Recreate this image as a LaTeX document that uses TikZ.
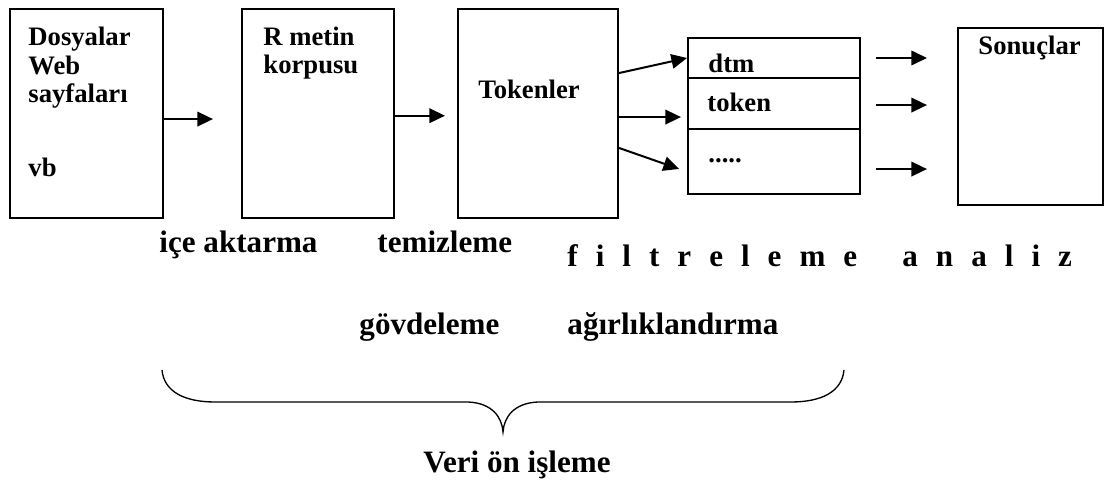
\documentclass[tikz,border=0pt]{standalone}
\usepackage{fontspec}
\setmainfont{Liberation Serif}
\usepackage{tikz}
\usetikzlibrary{positioning,arrows.meta}
\newcommand{\spacedword}[1]{{\spaceskip=8.1pt\relax #1}}
\tikzset{
  box/.style={draw,line width=0.9pt,inner sep=0pt,anchor=north west},
  boxtext/.style={inner sep=0pt,anchor=base west,align=left,
                  font=\bfseries\fontsize{12}{13}\selectfont},
  phase/.style={inner sep=0pt,anchor=base west,
                font=\bfseries\fontsize{14}{16}\selectfont},
  arr/.style={line width=0.9pt,-{Triangle[length=7pt,width=6.5pt]}}
}

\begin{document}
\begin{tikzpicture}[x=0.45pt,y=-0.45pt]
        \useasboundingbox (0,0) rectangle (1105,480);
        \node[box,minimum width=68.85pt,minimum height=94.05pt] (files) at (9,8) {};
        \node[box,minimum width=68.4pt,minimum height=94.05pt] (corpus) at (241,8) {};
        \node[box,minimum width=72pt,minimum height=94.05pt] (tokens) at (457,8) {};
        \node[box,minimum width=77.4pt,minimum height=18pt] (rowdtm) at (687,37) {};
        \node[box,minimum width=77.4pt,minimum height=22.95pt] (rowtoken) at (687,77) {};
        \node[box,minimum width=77.4pt,minimum height=29.25pt] (rowmore) at (687,128) {};
        \node[box,minimum width=65.25pt,minimum height=79.65pt] (results) at (957,27) {};

        \node[boxtext] (filesTxt) at (28,177) {Dosyalar\\Web\\sayfaları\\[20.3pt]vb};
        \node[boxtext] (corpusTxt) at (263,74) {R metin\\korpusu};
        \node[boxtext] (tokensTxt) at (478,99) {Tokenler};
        \node[boxtext] (dtmTxt) at (708,73) {dtm};
        \node[boxtext] (tokenTxt) at (707,112) {token};
        \node[boxtext] (moreTxt) at (708,163) {.....};
        \node[boxtext] (resultsTxt) at (978,55) {Sonuçlar};

        \draw[arr] ([yshift=-2.5pt]files.east) -- ++(49,0);
        \draw[arr] ([yshift=-1pt]corpus.east) -- ++(50,0);
        \draw[arr] ([yshift=18.2pt]tokens.east) -- (rowdtm.west);
        \draw[arr] ([yshift=-1.6pt]tokens.east) -- ++(62,0);
        \draw[arr] ([yshift=-15.5pt]tokens.east) -- ++(60,21);
        \draw[arr] ([xshift=6.75pt]rowdtm.east) -- ++(51,0);
        \draw[arr] ([xshift=6.75pt,yshift=-0.7pt]rowtoken.east) -- ++(51,0);
        \draw[arr] ([xshift=6.75pt,yshift=-3.4pt]rowmore.east) -- ++(51,0);

        \node[phase] (import) at (159,253) {içe aktarma};
        \node[phase] (clean) at (377,253) {temizleme};
        \node[phase] (filter) at (567,267) {\spacedword{f i l t r e l e m e}};
        \node[phase] (analysis) at (902,267) {\spacedword{a n a l i z}};
        \node[phase] (stem) at (359,335) {gövdeleme};
        \node[phase] (weight) at (567,335) {ağırlıklandırma};

        \draw[line width=0.6pt] (162,370) .. controls (164,392) and (185,402) .. (215,402)
          -- (468,402) .. controls (492,403) and (502,417) .. (503,432)
          .. controls (504,417) and (514,403) .. (538,402)
          -- (791,402) .. controls (821,402) and (842,392) .. (844,370);
        \node[phase] (prep) at (423,472) {Veri ön işleme};
      \end{tikzpicture}
\end{document}
